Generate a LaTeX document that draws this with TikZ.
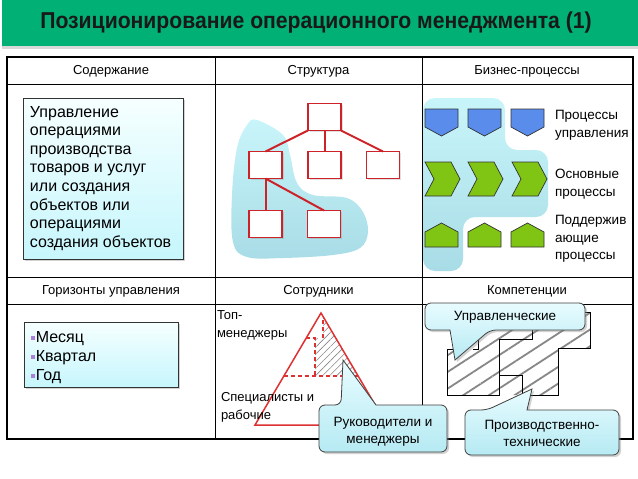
\documentclass[tikz,border=0pt]{standalone}
\usepackage{fontspec}
\setmainfont{Liberation Sans}
\usetikzlibrary{shadows,patterns.meta}
\definecolor{titlegreen}{RGB}{0,176,116}
\definecolor{orgred}{RGB}{204,34,40}
\definecolor{pyrred}{RGB}{222,50,50}
\definecolor{blobtop}{RGB}{200,245,250}
\definecolor{blobbot}{RGB}{168,220,230}
\definecolor{boxtop}{RGB}{246,255,255}
\definecolor{boxbot}{RGB}{198,246,252}
\definecolor{calltop}{RGB}{232,252,255}
\definecolor{callbot}{RGB}{182,234,243}
\definecolor{procblue}{RGB}{90,140,235}
\definecolor{procgreen}{RGB}{128,196,20}
\definecolor{bulletc}{RGB}{170,130,220}
\definecolor{hatchgray}{RGB}{135,135,135}
\newcommand\mybullet{\textcolor{bulletc}{\rule[2pt]{3.6pt}{3.6pt}}\hspace{1.2pt}}
\begin{document}
\begin{tikzpicture}[x=1pt,y=-1pt,
  every node/.style={inner sep=0pt, outer sep=0pt},
  hdr/.style={font=\fontsize{13}{15}\selectfont},
  gridline/.style={line width=0.8pt, draw=black},
  contentbox/.style={draw=black!80, line width=0.8pt, top color=boxtop, bottom color=boxbot,
     drop shadow={shadow xshift=2pt, shadow yshift=-2pt, opacity=0.35}},
  blob/.style={top color=blobtop, bottom color=blobbot},
  orgbox/.style={draw=orgred, line width=1.4pt, fill=white, minimum width=33pt, minimum height=27pt,
     drop shadow={shadow xshift=1.5pt, shadow yshift=-1.5pt, opacity=0.25}},
  orgline/.style={draw=orgred, line width=2pt},
  bluep/.style={draw=black!80, line width=0.7pt, fill=procblue},
  greenp/.style={draw=black!80, line width=0.7pt, fill=procgreen},
  lbl/.style={anchor=north west, align=left, font=\fontsize{13.5}{17.5}\selectfont},
  plbl/.style={anchor=north west, align=left, font=\fontsize{13}{18}\selectfont},
  reddash/.style={draw=pyrred, line width=1.5pt, dash pattern=on 4pt off 3pt},
  pyr/.style={draw=pyrred, line width=1.5pt},
  compline/.style={draw=black, line width=0.8pt},
  callout/.style={draw=black!75, line width=0.8pt, top color=calltop, bottom color=callbot,
     drop shadow={shadow xshift=2pt, shadow yshift=-2pt, opacity=0.35}},
  calltext/.style={align=center, font=\fontsize{13.5}{17}\selectfont}
]
\useasboundingbox (0,0) rectangle (638,479);
\fill[white] (0,0) rectangle (638,479);

% ---------- title ----------
\node[fill=titlegreen, minimum width=636pt, minimum height=46pt, anchor=north west,
      drop shadow={shadow xshift=0pt, shadow yshift=-3pt, opacity=0.3}] (titlebar) at (2,0) {};
\node[font=\bfseries\fontsize{23}{26}\selectfont, text=black!90] (title) at (316,23)
  {\scalebox{0.92}[1]{Позиционирование операционного менеджмента (1)}};

% ---------- blobs ----------
\shade[blob] plot[smooth cycle, tension=0.6] coordinates {
  (257,120) (283,135) (290,155) (297,183) (313,195) (347,198) (363,212) (368,232)
  (360,248) (333,255) (283,258) (247,257) (233,242) (232,195) (237,148) (247,125)};
\shade[blob, rounded corners=12pt] (423,98) -- (505,98) -- (505,150) -- (548,150) -- (548,217)
  -- (463,217) -- (463,271) -- (423,271) -- cycle;

% ---------- table ----------
\draw[gridline] (7,84) -- (633,84);
\draw[gridline] (7,277) -- (633,277);
\draw[gridline] (7,304) -- (633,304);
\draw[gridline] (215,57) -- (215,439);
\draw[gridline] (422,57) -- (422,439);
\draw[line width=1.8pt] (7,57) rectangle (633,439);

\node[hdr] (hcontent) at (111,71) {Содержание};
\node[hdr] (hstruct) at (318.5,71) {Структура};
\node[hdr] (hbp) at (527,71) {Бизнес-процессы};
\node[hdr] (hhor) at (111,291) {Горизонты управления};
\node[hdr] (hstaff) at (318.5,291) {Сотрудники};
\node[hdr] (hcomp) at (527,291) {Компетенции};

% ---------- content ----------
\draw[contentbox] (23,98) rectangle (183,259);
\node[anchor=north west, align=left, font=\fontsize{16}{18.6}\selectfont] (content) at (30,106)
  {Управление\\операциями\\производства\\товаров и услуг\\или создания\\объектов или\\операциями\\создания объектов};

% ---------- structure ----------
\node[orgbox] (o0) at (324.5,117) {};
\node[orgbox] (o1) at (265.5,165) {};
\node[orgbox] (o2) at (324.5,165) {};
\node[orgbox] (o3) at (383,165) {};
\node[orgbox] (o4) at (265.5,224) {};
\node[orgbox] (o5) at (324,224) {};
\draw[orgline] (o0.south west) -- (o1.north);
\draw[orgline] (o0.south) -- (o2.north);
\draw[orgline] (o0.south east) -- (o3.north);
\draw[orgline] (o1.south) -- (o4.north);
\draw[orgline] (o1.south) -- (o5.north);

% ---------- business processes ----------
\foreach \x in {425,468,511} {
  \draw[bluep] (\x,109) -- ++(33,0) -- ++(0,18) -- ++(-16.5,9) -- ++(-16.5,-9) -- cycle;
  \draw[greenp] (\x,232) -- ++(16.5,-9) -- ++(16.5,9) -- ++(0,15) -- ++(-33,0) -- cycle;
}
\foreach \x in {425,468,512} {
  \draw[greenp] (\x,162) -- ++(26,0) -- ++(9,17) -- ++(-9,17) -- ++(-26,0) -- ++(9,-17) -- cycle;
}
\node[lbl] (lupr) at (555,110.5) {Процессы\\управления};
\node[lbl] (lmain) at (555,169.5) {Основные\\процессы};
\node[lbl] (lsup) at (555,215.5) {Поддержив\\ающие\\процессы};

% ---------- horizons ----------
\draw[contentbox] (24,322) rectangle (178,387);
\node[anchor=north west, align=left, font=\fontsize{16}{19}\selectfont] (hlist) at (31,331)
  {\mybullet Месяц\\\mybullet Квартал\\\mybullet Год};

% ---------- staff pyramid ----------
\path[pattern={Lines[angle=45,distance=5pt,line width=0.6pt]}, pattern color=hatchgray]
  (323,316.4) -- (357.5,376) -- (315,376) -- (315,338) -- (323,338) -- cycle;
\draw[reddash] (284,376) -- (358,376);
\draw[reddash] (306,338) -- (315,338) -- (315,376);
\draw[reddash] (323,320) -- (323,338);
\draw[pyr] (321,313) -- (387,425) -- (255,425) -- cycle;
\node[plbl] (ltop) at (217,311) {Топ-\\менеджеры};
\node[plbl] (lspec) at (221,392) {Специалисты и\\рабочие};

% ---------- competencies ----------
\path[pattern={Lines[angle=33,distance=14pt,line width=1.8pt]}, pattern color=hatchgray]
  (447,349) -- (478,349) -- (478,312) -- (590,312) -- (590,348) -- (558,348) -- (558,395) -- (447,395) -- cycle;
\draw[compline] (447,349) -- (447,395) -- (499,395) -- (499,339) -- (532,339) -- (532,318);
\draw[compline] (499,375) -- (522,375) -- (522,395) -- (558,395) -- (558,348) -- (590,348) -- (590,312) -- (584,312);
\draw[compline] (447,349) -- (456,349);
\draw[compline] (473,349) -- (478,349) -- (478,330);

% ---------- callouts ----------
\draw[callout] (425,316) [rounded corners=6pt] -- (425,303) -- (585,303) -- (585,330) -- (490,330)
  [sharp corners] -- (455,360) -- (450,330) [rounded corners=6pt] -- (425,330) -- cycle;
\node[calltext] (cupr) at (505,317) {Управленческие};

\draw[callout] (319,428) [rounded corners=6pt] -- (319,405) -- (341,405) [sharp corners] -- (343,360)
  -- (376,405) [rounded corners=6pt] -- (447,405) -- (447,452) -- (319,452) -- cycle;
\node[calltext] (cmgr) at (383,431.5) {Руководители и\\менеджеры};

\draw[callout] (465,432) [rounded corners=6pt] -- (465,410) -- (487,410) [sharp corners] -- (532,389)
  -- (527,410) [rounded corners=6pt] -- (619,410) -- (619,455) -- (465,455) -- cycle;
\node[calltext] (cprod) at (542,433.5) {Производственно-\\технические};
\end{tikzpicture}
\end{document}
